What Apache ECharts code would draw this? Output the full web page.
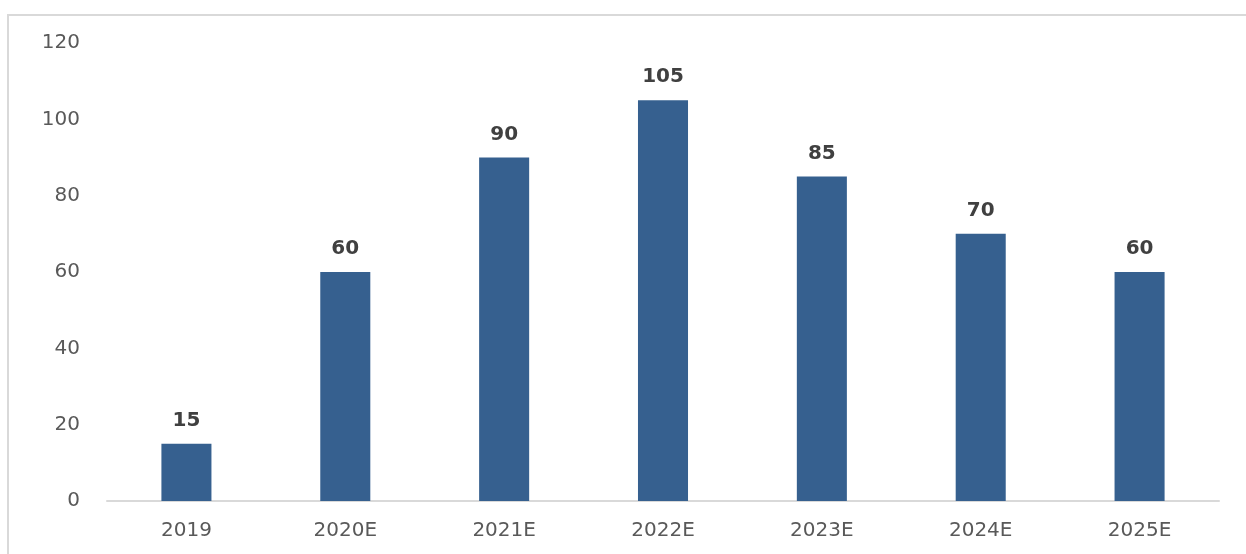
<!DOCTYPE html>
<html>
<head>
<meta charset="utf-8">
<script src="https://cdn.jsdelivr.net/npm/echarts@6/dist/echarts.min.js"></script>
<style>
	html, body { margin: 0; padding: 0; background: #fff; }
	.frame {
		position: absolute;
		left: 7px; top: 14px;
		width: 1260px; height: 560px;
		border-top: 2px solid #d9d9d9;
		border-left: 2px solid #d9d9d9;
	}
	#chart { position: absolute; left: 0; top: 0; width: 1246px; height: 554px; }
</style>
</head>
<body>
<div class="frame"></div>
<div id="chart"></div>
<script>
	var categories = ['2019', '2020E', '2021E', '2022E', '2023E', '2024E', '2025E'];
	var values = [15, 60, 90, 105, 85, 70, 60];
	var yTicks = { min: 0, max: 120, interval: 20 };

	var chart = echarts.init(document.getElementById('chart'));
	chart.setOption({
		animation: false,
		textStyle: { fontFamily: 'DejaVu Sans' },
		grid: { left: 107, right: 27, top: 43, bottom: 53 },
		xAxis: {
			type: 'category',
			data: categories,
			axisTick: { show: false },
			axisLine: { lineStyle: { color: '#d9d9d9', width: 2 } },
			axisLabel: { color: '#595959', fontSize: 20, margin: 20 }
		},
		yAxis: {
			type: 'value',
			min: yTicks.min,
			max: yTicks.max,
			interval: yTicks.interval,
			splitLine: { show: false },
			axisLine: { show: false },
			axisTick: { show: false },
			axisLabel: { color: '#595959', fontSize: 20, margin: 27 }
		},
		series: [{
			type: 'bar',
			data: values,
			barWidth: '31.5%',
			itemStyle: { color: '#36608f' },
			label: {
				show: true,
				position: 'top',
				distance: 13,
				color: '#404040',
				fontWeight: 'bold',
				fontSize: 20
			}
		}]
	});
</script>
</body>
</html>
